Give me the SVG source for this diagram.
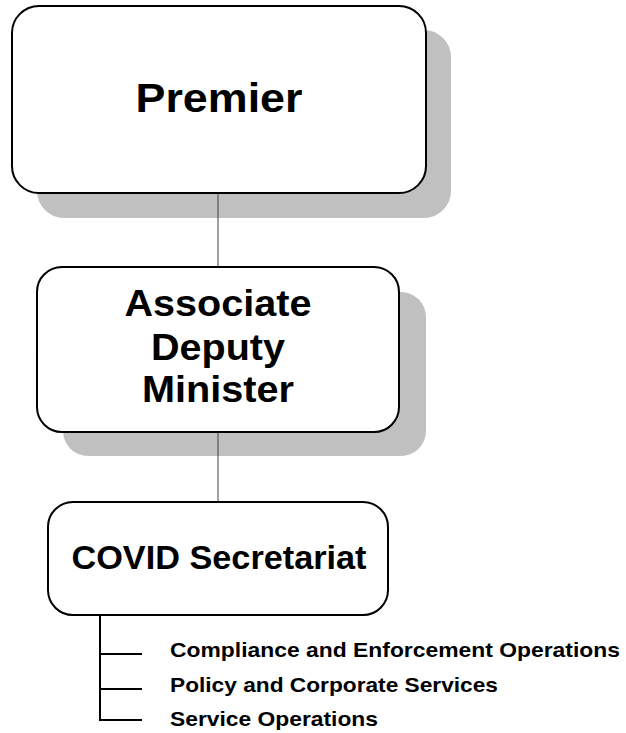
<svg xmlns="http://www.w3.org/2000/svg" width="626" height="733" viewBox="0 0 626 733">
<style>
.shadow{fill:#c0c0c0;stroke:none}
.box{fill:#ffffff;stroke:#000000;stroke-width:2}
.t{font-family:"Liberation Sans",Arial,sans-serif;font-weight:bold;fill:#000000;text-anchor:middle}
.s{font-family:"Liberation Sans",Arial,sans-serif;font-weight:bold;fill:#000000;font-size:21px}
.link{stroke:#404040;stroke-width:1;fill:none}
.br{stroke:#000000;stroke-width:2;fill:none}
</style>
<rect width="626" height="733" fill="#ffffff"/>
<g id="shadows">
<rect class="shadow" x="37" y="30" width="414" height="188" rx="27" ry="27"/>
<rect class="shadow" x="63" y="292" width="363" height="164" rx="25" ry="25"/>
</g>
<g id="connectors">
<line class="link" x1="218" y1="193" x2="218" y2="267"/>
<line class="link" x1="218" y1="432" x2="218" y2="502"/>
<polyline class="br" points="100,615 100,720 142,720"/>
<line class="br" x1="100" y1="654" x2="142" y2="654"/>
<line class="br" x1="100" y1="689" x2="142" y2="689"/>
</g>
<g id="premier">
<rect class="box" x="12" y="6" width="414" height="187" rx="27" ry="27"/>
<text class="t" x="219" y="112" font-size="41" textLength="167" lengthAdjust="spacingAndGlyphs">Premier</text>
</g>
<g id="adm">
<rect class="box" x="37" y="267" width="362" height="165" rx="25" ry="25"/>
<text class="t" x="218" y="316" font-size="37" textLength="187" lengthAdjust="spacingAndGlyphs">Associate</text>
<text class="t" x="218" y="360" font-size="37" textLength="134" lengthAdjust="spacingAndGlyphs">Deputy</text>
<text class="t" x="218" y="402" font-size="37" textLength="152" lengthAdjust="spacingAndGlyphs">Minister</text>
</g>
<g id="covid">
<rect class="box" x="48" y="502" width="340" height="113" rx="25" ry="25"/>
<text class="t" x="219" y="569" font-size="33" textLength="295" lengthAdjust="spacingAndGlyphs">COVID Secretariat</text>
</g>
<g id="units">
<text class="s" x="170" y="657" textLength="450" lengthAdjust="spacingAndGlyphs">Compliance and Enforcement Operations</text>
<text class="s" x="170" y="692" textLength="328" lengthAdjust="spacingAndGlyphs">Policy and Corporate Services</text>
<text class="s" x="170" y="726" textLength="208" lengthAdjust="spacingAndGlyphs">Service Operations</text>
</g>
</svg>
